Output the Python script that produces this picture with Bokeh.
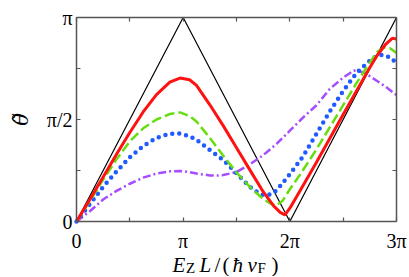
import numpy as np
from bokeh.plotting import figure
from bokeh.models import Range1d, LinearAxis, FixedTicker
from bokeh.core.properties import value
from bokeh.embed import file_html
from bokeh.resources import INLINE

# x and y in units of pi
x_black = [0, 1, 2, 3]
y_black = [0, 1, 0, 1]

x_red = [0, 0.125, 0.25, 0.375, 0.5, 0.625, 0.75, 0.875, 0.97, 1.06, 1.125, 1.25, 1.375, 1.5,
         1.625, 1.75, 1.85, 1.91, 1.955, 2.0, 2.1, 2.25, 2.5, 2.75, 2.82, 2.9, 2.96, 3.0]
y_red = [0, 0.108, 0.218, 0.330, 0.436, 0.537, 0.622, 0.683, 0.703, 0.695, 0.667, 0.572, 0.470, 0.362,
         0.253, 0.146, 0.075, 0.045, 0.032, 0.065, 0.155, 0.29, 0.525, 0.755, 0.815, 0.87, 0.898, 0.895]

x_green = [0, 0.125, 0.25, 0.375, 0.5, 0.625, 0.75, 0.875, 0.97, 1.06, 1.125, 1.25, 1.375, 1.5,
           1.625, 1.75, 1.82, 1.87, 1.93, 2.0, 2.1, 2.25, 2.5, 2.625, 2.75, 2.82, 2.88, 2.94, 3.0]
y_green = [0, 0.10, 0.205, 0.305, 0.393, 0.457, 0.500, 0.527, 0.535, 0.517, 0.49, 0.41, 0.323, 0.24,
           0.17, 0.11, 0.087, 0.078, 0.10, 0.158, 0.233, 0.354, 0.57, 0.678, 0.78, 0.832, 0.853, 0.849, 0.826]

x_blue = [0, 0.125, 0.25, 0.375, 0.5, 0.625, 0.75, 0.875, 0.97, 1.06, 1.125, 1.25, 1.375, 1.5,
          1.625, 1.72, 1.78, 1.85, 1.92, 2.0, 2.125, 2.25, 2.375, 2.5, 2.625, 2.75, 2.82, 2.88, 2.94, 3.0]
y_blue = [0, 0.085, 0.17, 0.245, 0.315, 0.37, 0.41, 0.43, 0.432, 0.418, 0.40, 0.35, 0.302, 0.237,
          0.17, 0.135, 0.127, 0.14, 0.18, 0.232, 0.32, 0.43, 0.54, 0.64, 0.728, 0.788, 0.813, 0.817, 0.804, 0.777]

x_purple = [0, 0.125, 0.25, 0.375, 0.5, 0.625, 0.75, 0.875, 0.97, 1.06, 1.125, 1.25, 1.32, 1.375,
            1.5, 1.625, 1.75, 1.875, 2.0, 2.125, 2.25, 2.375, 2.5, 2.6, 2.7, 2.8, 2.9, 3.0]
y_purple = [0, 0.05, 0.108, 0.15, 0.185, 0.215, 0.235, 0.246, 0.248, 0.242, 0.235, 0.226, 0.225, 0.228,
            0.242, 0.28, 0.325, 0.38, 0.445, 0.51, 0.57, 0.65, 0.705, 0.74, 0.73, 0.695, 0.66, 0.62]

x_ticks = [0, 0.5, 1, 1.5, 2, 2.5, 3]
x_tick_labels = ["0", "", "π", "", "2π", "", "3π"]
y_ticks = [0, 0.25, 0.5, 0.75, 1]
y_tick_labels = ["0", "", "π/2", "", "π"]
y_title = "θ̃"
# x title E_Z L/(ħ v_F), written piece by piece (text, style, size, subscript?)
x_title_pieces = [("E", "italic", 21, False), ("Z", "normal", 15, True), ("L", "italic", 21, False),
                  ("/", "normal", 21, False), ("(", "normal", 21, False), ("ħ", "italic", 21, False),
                  ("v", "italic", 21, False), ("F", "normal", 15, True), (")", "normal", 21, False)]
x_title_left_px = [172, 185.5, 199, 214, 222, 232, 247, 257, 271]

FONT = "Liberation Serif"
FRAME = "#555555"

# layout: the data box (0..3, 0..1) occupies page pixels x 76..396, y 17..221
W, H = 408, 276
X0_PX, Y0_PX = 76, 221
PX_PER_X = 320 / 3
PX_PER_Y = 204


def px_to_x(px):
    return (px - X0_PX) / PX_PER_X


def py_to_y(py):
    return (Y0_PX - py) / PX_PER_Y


p = figure(width=W, height=H, output_backend="svg", toolbar_location=None,
           x_range=Range1d(px_to_x(0), px_to_x(W)), y_range=Range1d(py_to_y(H), py_to_y(0)),
           x_axis_type=None, y_axis_type=None, min_border=0)
p.xgrid.visible = False
p.ygrid.visible = False
p.outline_line_color = None
p.background_fill_color = "white"
p.border_fill_color = "white"


def make_axis(ticks, labels, loc, bounds, show_labels, standoff):
    ax = LinearAxis(fixed_location=loc, bounds=bounds)
    ax.ticker = FixedTicker(ticks=ticks)
    ax.major_label_overrides = {t: l for t, l in zip(ticks, labels)}
    ax.axis_line_color = FRAME
    ax.axis_line_width = 1.5
    ax.major_tick_in = 4
    ax.major_tick_out = 0
    ax.major_tick_line_color = FRAME
    ax.major_tick_line_width = 1.2
    ax.minor_tick_line_color = None
    ax.major_label_standoff = standoff
    ax.major_label_text_font = FONT
    ax.major_label_text_color = "black"
    ax.major_label_text_font_size = "20px" if show_labels else "0px"
    return ax


p.add_layout(make_axis(x_ticks, x_tick_labels, 0, (0, 3), True, 8), "below")
p.add_layout(make_axis(y_ticks, y_tick_labels, 0, (0, 1), True, 4), "left")
p.add_layout(make_axis(x_ticks, [""] * len(x_ticks), 1, (0, 3), False, 0), "above")
p.add_layout(make_axis(y_ticks, [""] * len(y_ticks), 3, (0, 1), False, 0), "right")

p.line(x_black, y_black, color="black", line_width=1.2)
p.line(x_purple, y_purple, color="#a64dff", line_width=2.5, line_dash="8 3 2 3")
p.line(x_blue, y_blue, color="#1f5bff", line_width=4.5, line_dash="0 7", line_cap="round")
p.line(x_green, y_green, color="#66dd11", line_width=2.5, line_dash="10 4")
p.line(x_red, y_red, color="#ff1111", line_width=3)

# y-axis title
p.text(x=[px_to_x(20)], y=[py_to_y(119)], text=[y_title], angle=np.pi / 2,
       text_align="center", text_baseline="middle", text_font=value("DejaVu Serif"),
       text_font_style=value("italic"), text_font_size=value("21px"), text_color="black")

# x-axis title
for (t, st, fs, is_sub), xl in zip(x_title_pieces, x_title_left_px):
    p.text(x=[px_to_x(xl)], y=[py_to_y(267.5 if is_sub else 264)], text=[t],
           text_font=value(FONT), text_font_style=value(st), text_font_size=value(f"{fs}px"),
           text_align="left", text_baseline="alphabetic", text_color="black")

open("out.html", "w").write(file_html(p, INLINE))
